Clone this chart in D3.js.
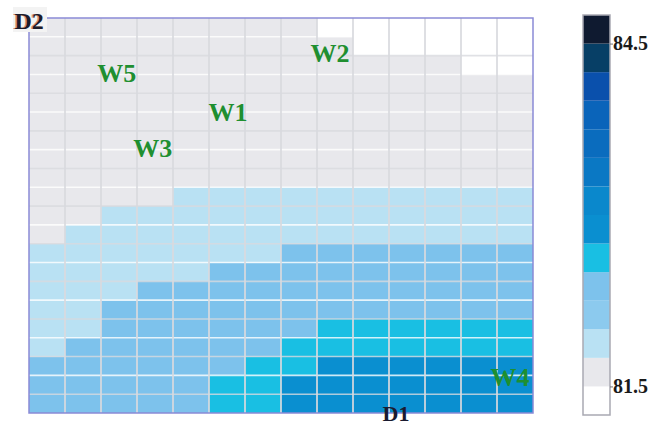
<!DOCTYPE html>
<html>
<head>
<meta charset="utf-8">
<script src="https://cdn.jsdelivr.net/npm/d3@7"></script>
<style>
  html, body { margin: 0; padding: 0; background: #ffffff; }
  svg { display: block; }
</style>
</head>
<body>
<svg id="chart" width="660" height="427"></svg>
<script>
// D1 runs along the columns (1..14), D2 along the rows (21 at the top down to 1).
const d1Levels = d3.range(1, 15);
const d2Levels = d3.range(21, 0, -1);

// Response values, one array per D2 level (top row first), one value per D1 column.
const d2_21 = [81.6, 81.6, 81.6, 81.6, 81.6, 81.6, 81.6, 81.6, 81.4, 81.4, 81.4, 81.4, 81.4, 81.4];
const d2_20 = [81.6, 81.6, 81.6, 81.6, 81.6, 81.6, 81.6, 81.6, 81.6, 81.4, 81.4, 81.4, 81.4, 81.4];
const d2_19 = [81.6, 81.6, 81.6, 81.6, 81.6, 81.6, 81.6, 81.6, 81.6, 81.6, 81.6, 81.6, 81.4, 81.4];
const d2_18 = [81.6, 81.6, 81.6, 81.6, 81.6, 81.6, 81.6, 81.6, 81.6, 81.6, 81.6, 81.6, 81.6, 81.6];
const d2_17 = [81.6, 81.6, 81.6, 81.6, 81.6, 81.6, 81.6, 81.6, 81.6, 81.6, 81.6, 81.6, 81.6, 81.6];
const d2_16 = [81.6, 81.6, 81.6, 81.6, 81.6, 81.6, 81.6, 81.6, 81.6, 81.6, 81.6, 81.6, 81.6, 81.6];
const d2_15 = [81.6, 81.6, 81.6, 81.6, 81.6, 81.6, 81.6, 81.6, 81.6, 81.6, 81.6, 81.6, 81.6, 81.6];
const d2_14 = [81.6, 81.6, 81.6, 81.6, 81.6, 81.6, 81.6, 81.6, 81.6, 81.6, 81.6, 81.6, 81.6, 81.6];
const d2_13 = [81.6, 81.6, 81.6, 81.6, 81.6, 81.6, 81.6, 81.6, 81.6, 81.6, 81.6, 81.6, 81.6, 81.6];
const d2_12 = [81.6, 81.6, 81.6, 81.6, 81.85, 81.85, 81.85, 81.85, 81.85, 81.85, 81.85, 81.85, 81.85, 81.85];
const d2_11 = [81.6, 81.6, 81.85, 81.85, 81.85, 81.85, 81.85, 81.85, 81.85, 81.85, 81.85, 81.85, 81.85, 81.85];
const d2_10 = [81.6, 81.85, 81.85, 81.85, 81.85, 81.85, 81.85, 81.85, 81.85, 81.85, 81.85, 81.85, 81.85, 81.85];
const d2_9  = [81.85, 81.85, 81.85, 81.85, 81.85, 81.85, 81.85, 82.35, 82.35, 82.35, 82.35, 82.35, 82.35, 82.35];
const d2_8  = [81.85, 81.85, 81.85, 81.85, 81.85, 82.35, 82.35, 82.35, 82.35, 82.35, 82.35, 82.35, 82.35, 82.35];
const d2_7  = [81.85, 81.85, 81.85, 82.35, 82.35, 82.35, 82.35, 82.35, 82.35, 82.35, 82.35, 82.35, 82.35, 82.35];
const d2_6  = [81.85, 81.85, 82.35, 82.35, 82.35, 82.35, 82.35, 82.35, 82.35, 82.35, 82.35, 82.35, 82.35, 82.35];
const d2_5  = [81.85, 81.85, 82.35, 82.35, 82.35, 82.35, 82.35, 82.35, 82.6, 82.6, 82.6, 82.6, 82.6, 82.6];
const d2_4  = [81.85, 82.35, 82.35, 82.35, 82.35, 82.35, 82.35, 82.6, 82.6, 82.6, 82.6, 82.6, 82.6, 82.6];
const d2_3  = [82.35, 82.35, 82.35, 82.35, 82.35, 82.35, 82.6, 82.6, 82.85, 82.85, 82.85, 82.85, 82.85, 82.85];
const d2_2  = [82.35, 82.35, 82.35, 82.35, 82.35, 82.6, 82.6, 82.85, 82.85, 82.85, 82.85, 82.85, 82.85, 82.85];
const d2_1  = [82.35, 82.35, 82.35, 82.35, 82.35, 82.6, 82.6, 82.85, 82.85, 82.85, 82.85, 82.85, 82.85, 82.85];

const rows = [d2_21, d2_20, d2_19, d2_18, d2_17, d2_16, d2_15, d2_14, d2_13, d2_12, d2_11,
              d2_10, d2_9, d2_8, d2_7, d2_6, d2_5, d2_4, d2_3, d2_2, d2_1];

// Contour levels of the colour bar (lowest to highest) and the fill of each band.
const levels = d3.range(0, 15).map(i => 81.25 + i * 0.25);
const bandColors = ["#ffffff", "#e8e8ec", "#b9e1f3", "#8ccaee", "#7dc2ec", "#19bfe3", "#0a8fd0",
                    "#0a88cc", "#0a78c4", "#0a6cbe", "#0a64ba", "#0a50ac", "#073f66", "#0f1a30"];
const legendTicks = [81.5, 84.5];

// Named operating points, given in D1 / D2 grid units.
const pointNames = ["W5", "W1", "W3", "W2", "W4"];
const pointD1 = [3.44, 6.53, 4.44, 9.36, 14.36];
const pointD2 = [19.08, 17.0, 15.09, 20.14, 2.91];

const svg = d3.select("#chart");
const plot = { left: 29, right: 533, top: 18, bottom: 413 };

const x = d3.scaleLinear().domain([1, 15]).range([plot.left, plot.right]);
const y = d3.scaleLinear().domain([1, 22]).range([plot.bottom, plot.top]);
const color = d3.scaleThreshold().domain(levels.slice(1, -1)).range(bandColors);

const cells = [];
rows.forEach((row, ri) => {
  row.forEach((v, ci) => cells.push({ d1: d1Levels[ci], d2: d2Levels[ri], v }));
});

const g = svg.append("g");

g.selectAll("rect.cell")
  .data(cells)
  .join("rect")
  .attr("class", "cell")
  .attr("x", d => x(d.d1))
  .attr("y", d => y(d.d2 + 1))
  .attr("width", d => x(d.d1 + 1) - x(d.d1))
  .attr("height", d => y(d.d2) - y(d.d2 + 1))
  .attr("fill", d => color(d.v))
  .attr("shape-rendering", "crispEdges");

// Cell separators: pale horizontal rules and grey column rules.
g.selectAll("line.h")
  .data(d3.range(2, 22))
  .join("line")
  .attr("class", "h")
  .attr("x1", plot.left).attr("x2", plot.right)
  .attr("y1", d => y(d)).attr("y2", d => y(d))
  .attr("stroke", (d, i) => i % 2 ? "#ffffff" : "#d8d9de")
  .attr("stroke-opacity", 0.8)
  .attr("stroke-width", 1.6);

g.selectAll("line.v")
  .data(d3.range(2, 15))
  .join("line")
  .attr("class", "v")
  .attr("x1", d => x(d)).attr("x2", d => x(d))
  .attr("y1", plot.top).attr("y2", plot.bottom)
  .attr("stroke", "#d8d9de")
  .attr("stroke-opacity", 0.85)
  .attr("stroke-width", 2);

// Plot frame.
g.append("rect")
  .attr("x", plot.left).attr("y", plot.top)
  .attr("width", plot.right - plot.left).attr("height", plot.bottom - plot.top)
  .attr("fill", "none")
  .attr("stroke", "#8a8ad6")
  .attr("stroke-width", 1.5);

// Point labels.
g.selectAll("text.pt")
  .data(pointNames)
  .join("text")
  .attr("class", "pt")
  .attr("x", (d, i) => x(pointD1[i]))
  .attr("y", (d, i) => y(pointD2[i]))
  .attr("dy", "0.33em")
  .attr("text-anchor", "middle")
  .attr("font-family", "Liberation Serif, serif")
  .attr("font-weight", "bold")
  .attr("font-size", 26)
  .attr("fill", "#1f8f30")
  .text(d => d);

// Axis titles.
svg.append("rect")
  .attr("x", 13).attr("y", 7).attr("width", 34).attr("height", 25)
  .attr("fill", "#f3f3f3");
svg.append("text")
  .attr("x", 13).attr("y", 29)
  .attr("font-family", "Liberation Serif, serif")
  .attr("font-weight", "bold").attr("font-size", 24)
  .attr("fill", "#c8501e").attr("opacity", 0.6)
  .text("D2");
svg.append("text")
  .attr("x", 14.5).attr("y", 29)
  .attr("font-family", "Liberation Serif, serif")
  .attr("font-weight", "bold").attr("font-size", 24)
  .attr("fill", "#1c1c2a")
  .text("D2");
svg.append("text")
  .attr("x", 396).attr("y", 421)
  .attr("text-anchor", "middle")
  .attr("font-family", "Liberation Serif, serif")
  .attr("font-weight", "bold").attr("font-size", 22)
  .attr("fill", "#1a1a30")
  .text("D1");

// Colour bar.
const legend = { x: 583, width: 27, top: 15, bottom: 415 };
const ly = d3.scaleLinear().domain([levels[0], levels[levels.length - 1]]).range([legend.bottom, legend.top]);
const lg = svg.append("g");

lg.selectAll("rect.band")
  .data(bandColors)
  .join("rect")
  .attr("class", "band")
  .attr("x", legend.x)
  .attr("y", (d, i) => ly(levels[i + 1]))
  .attr("width", legend.width)
  .attr("height", (d, i) => ly(levels[i]) - ly(levels[i + 1]))
  .attr("fill", d => d);

lg.append("rect")
  .attr("x", legend.x).attr("y", legend.top)
  .attr("width", legend.width).attr("height", legend.bottom - legend.top)
  .attr("fill", "none")
  .attr("stroke", "#a9a9b2")
  .attr("stroke-width", 1.5);

const axis = d3.axisRight(ly).tickValues(legendTicks).tickSize(3).tickFormat(d3.format(".1f"));
lg.append("g")
  .attr("transform", `translate(${legend.x + legend.width},0)`)
  .call(axis)
  .call(s => s.select(".domain").remove())
  .call(s => s.selectAll(".tick line").attr("stroke", "#777"))
  .call(s => s.selectAll(".tick text")
    .attr("x", 3)
    .attr("font-family", "Liberation Serif, serif")
    .attr("font-weight", "bold")
    .attr("font-size", 20)
    .attr("fill", "#1a1a1a"));
</script>
</body>
</html>
